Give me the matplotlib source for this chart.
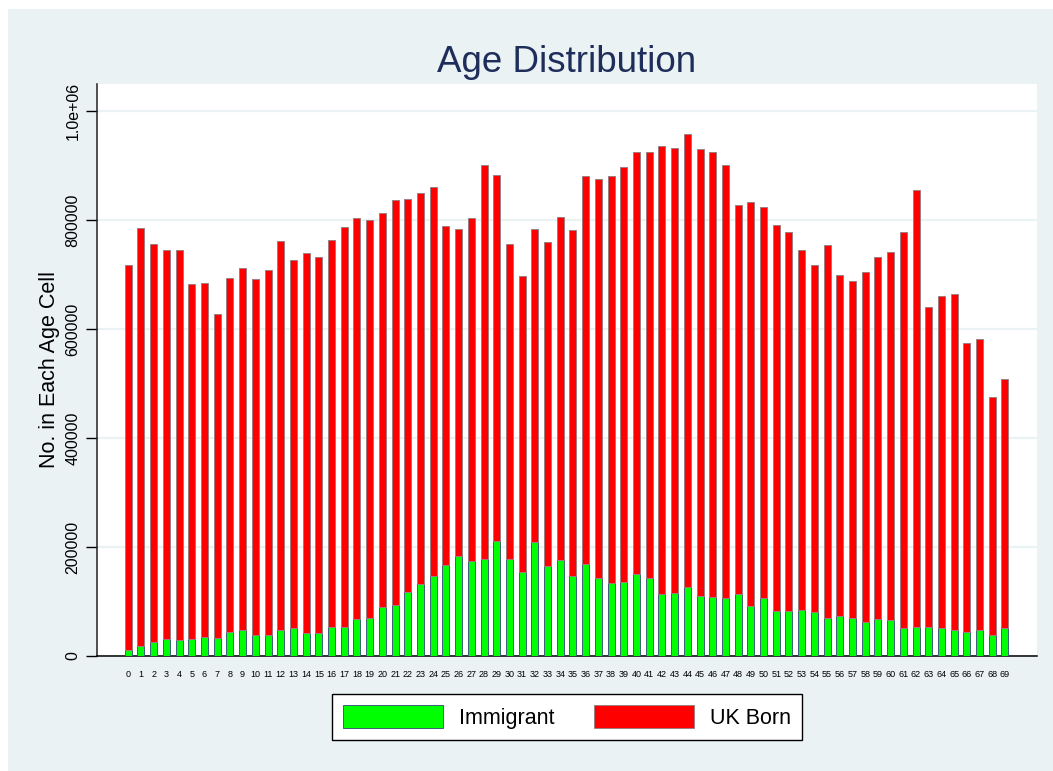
import matplotlib
matplotlib.use("Agg")
import matplotlib.pyplot as plt
from matplotlib.patches import Rectangle

plt.rcParams['font.family'] = ['Liberation Sans', 'DejaVu Sans']

ages = list(range(70))
age_labels = [str(a) for a in ages]
immigrant = [11000, 18900, 26200, 31700, 29400, 31700, 35400, 33000, 44000, 47000,
             37800, 37800, 47000, 51400, 42800, 41500, 52500, 52500, 67200, 69000,
             89200, 93600, 117400, 132700, 147300, 166200, 182800, 174300, 177300, 211000,
             178500, 153400, 209700, 165100, 175400, 147300, 169400, 142400, 133900, 136300,
             151000, 142400, 114300, 116100, 127200, 109400, 107500, 105700, 113800, 91700,
             105700, 81800, 83100, 84400, 80700, 69000, 73900, 69000, 62900, 67200,
             66600, 50600, 53200, 53200, 51400, 48300, 44000, 48300, 37800, 51400]
uk_born = [705900, 767000, 730300, 712600, 714900, 650900, 649600, 594500, 649000, 664300,
           653400, 670500, 714500, 675800, 696100, 690600, 710200, 734700, 735900, 731000,
           723700, 743100, 720600, 716300, 713900, 622800, 600700, 629400, 723700, 672200,
           576900, 543300, 573800, 594600, 630700, 635000, 711400, 732300, 746900, 761000,
           774400, 783000, 820900, 816600, 830600, 820300, 817900, 795300, 714400, 740700,
           718800, 709600, 694300, 661200, 636100, 684500, 625200, 619700, 641700, 664900,
           674100, 726800, 801300, 587200, 608600, 615900, 530300, 533400, 437400, 456300]
series_names = ["Immigrant", "UK Born"]
y_ticks = [0, 200000, 400000, 600000, 800000, 1000000]
y_tick_labels = ["0", "200000", "400000", "600000", "800000", "1.0e+06"]

W, H = 1053, 771
fig = plt.figure(figsize=(W / 100, H / 100), dpi=100, facecolor="white")
bg = "#EAF2F3"
fig.patches.append(Rectangle((8 / W, -0.02), 1.02, 1.02 - 9 / H, transform=fig.transFigure,
                             facecolor=bg, edgecolor="none", zorder=-10))

ax = fig.add_axes([97 / W, 1 - 656 / H, (1037 - 97) / W, (656 - 84) / H])
ax.set_zorder(1)
ax.set_facecolor("white")

bw = 0.55
b1 = ax.bar(ages, immigrant, width=bw, color="#00FF00", edgecolor="#3B5F7D",
            linewidth=0.7, label=series_names[0], zorder=3)
b2 = ax.bar(ages, uk_born, width=bw, bottom=immigrant, color="#FF0000", edgecolor="#A07C80",
            linewidth=0.7, label=series_names[1], zorder=3)

ax.set_xlim(-2.46, 71.52)
ax.set_ylim(0, 1049500)

ax.set_yticks(y_ticks)
ax.set_yticklabels(y_tick_labels, rotation=90, va="center", fontsize=11.5)
ax.tick_params(axis="y", length=8, width=1, pad=4, color="black")
ax.set_xticks(ages)
ax.set_xticklabels(age_labels, fontsize=6.5)
ax.tick_params(axis="x", length=0, pad=10)

ax.grid(axis="y", color=bg, linewidth=1.6, zorder=0)
ax.set_axisbelow(True)
for s in ["top", "right"]:
    ax.spines[s].set_visible(False)
ax.spines["left"].set_color("#222222")
ax.spines["left"].set_linewidth(1.1)
ax.spines["bottom"].set_color("black")
ax.spines["bottom"].set_linewidth(1.1)

ax.set_ylabel("No. in Each Age Cell", fontsize=15.5, labelpad=4)

fig.text(567 / W, 1 - 63 / H, "Age Distribution", ha="center", va="center",
         fontsize=26.5, color="#1E2D5A")

leg = fig.legend(handles=[b1, b2], labels=series_names, loc="center",
                 bbox_to_anchor=(567 / W, 1 - 717 / H), ncol=2, fontsize=15.5,
                 frameon=True, fancybox=False, framealpha=1, handlelength=4.65,
                 handleheight=1.26, handletextpad=0.75, columnspacing=1.8, borderpad=0.5)
leg.get_frame().set_edgecolor("black")
leg.get_frame().set_linewidth(1.0)
leg.get_frame().set_facecolor("white")

fig.savefig("out.png", dpi=100, facecolor=fig.get_facecolor())
